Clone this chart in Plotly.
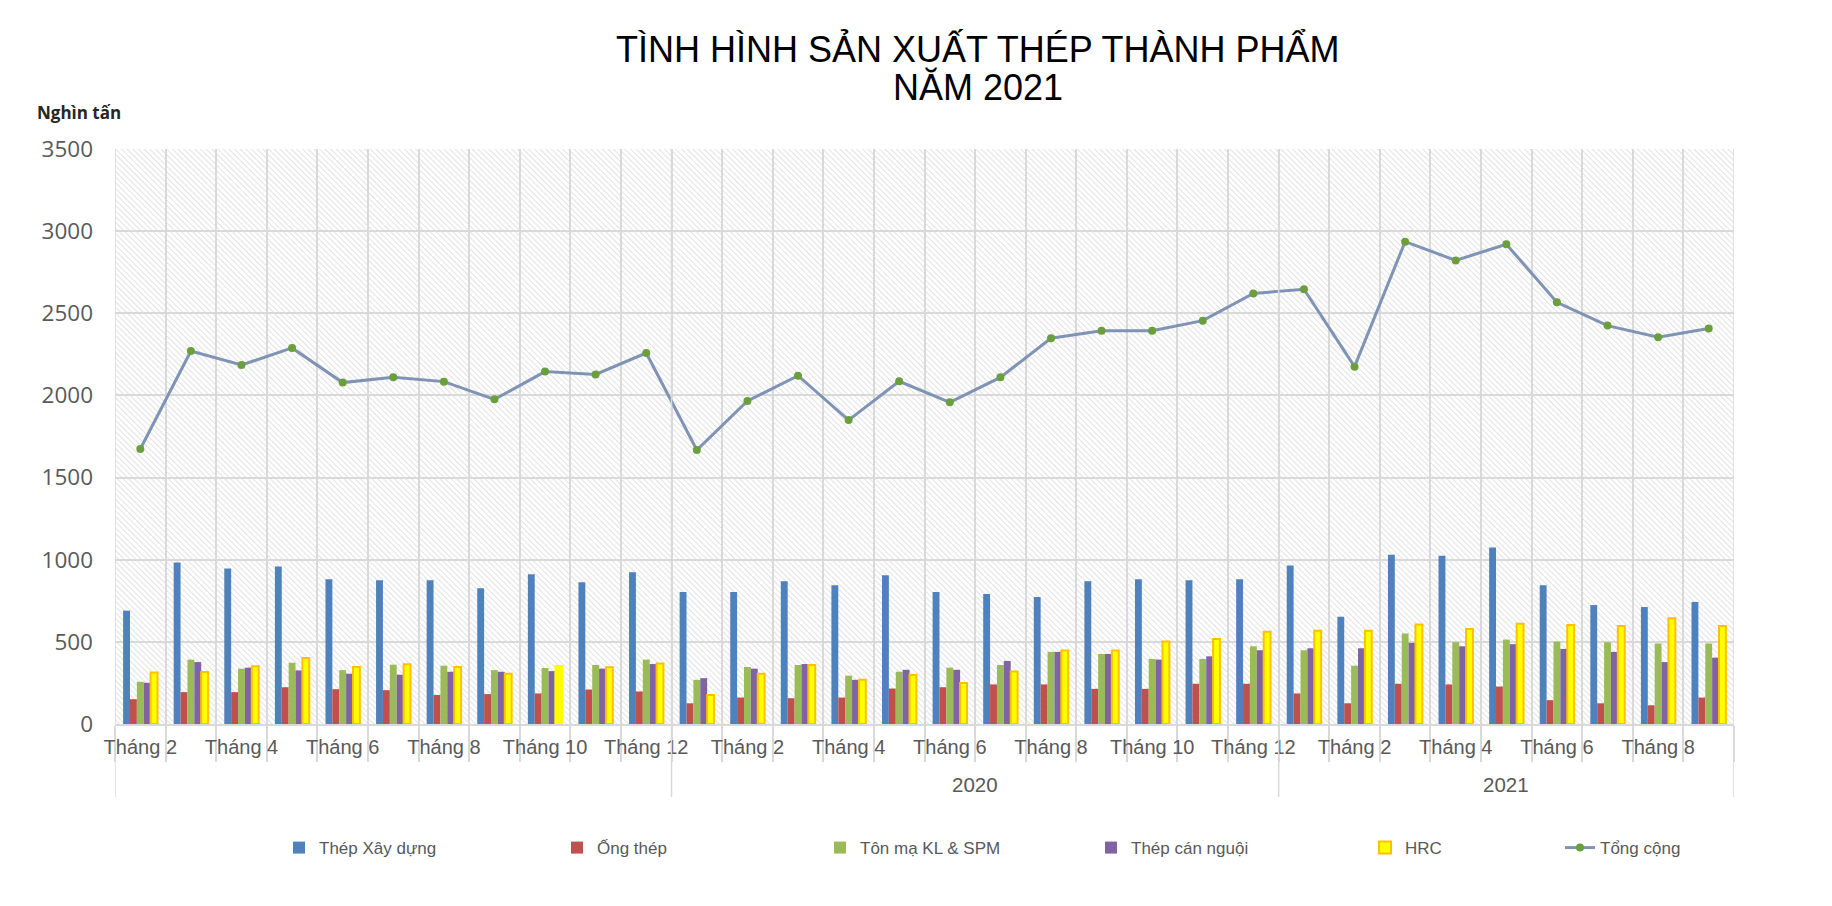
import base64
import numpy as np
import plotly.graph_objects as go

# ---------------- data ----------------
months = (["Tháng %d" % m for m in range(2, 13)]
          + ["Tháng %d" % m for m in range(1, 13)]
          + ["Tháng %d" % m for m in range(1, 10)])
group_labels = ["", "2020", "2021"]
group_sizes = [11, 12, 9]

thep_xd = [690, 983, 947, 959, 881, 875, 875, 826, 912, 863, 924,
           804, 804, 869, 845, 906, 804, 792, 773, 869, 881, 875, 881,
           965, 653, 1030, 1024, 1075, 845, 724, 712, 743]
ong_thep = [151, 194, 194, 224, 212, 206, 177, 182, 186, 210, 198,
            126, 161, 157, 161, 216, 224, 241, 241, 214, 214, 245, 245,
            186, 126, 245, 241, 228, 145, 126, 114, 161]
ton_ma = [257, 392, 337, 373, 328, 361, 355, 328, 341, 359, 392,
          269, 347, 359, 294, 318, 343, 359, 439, 426, 396, 396, 473,
          449, 355, 551, 498, 514, 502, 498, 490, 490]
thep_cn = [251, 377, 343, 326, 306, 300, 318, 318, 322, 337, 365,
           279, 337, 365, 269, 330, 330, 384, 439, 426, 392, 412, 449,
           461, 461, 494, 473, 486, 457, 439, 377, 404]
hrc = [314, 316, 351, 402, 347, 363, 347, 306, 353, 345, 369,
       177, 306, 359, 269, 298, 249, 320, 447, 447, 502, 518, 561,
       567, 567, 606, 579, 610, 602, 596, 643, 596]
tong = [1674, 2270, 2185, 2289, 2078, 2110, 2084, 1976, 2145, 2128, 2258,
        1668, 1966, 2120, 1850, 2086, 1958, 2110, 2348, 2394, 2394, 2455, 2621,
        2646, 2175, 2936, 2822, 2920, 2567, 2425, 2354, 2408]

y_ticks = [0, 500, 1000, 1500, 2000, 2500, 3000, 3500]

# ---------------- layout constants ----------------
ML, MT, PW, PH = 107, 141, 1619, 575
W, H = 1832, 906
n = len(months)
x = np.arange(n)
grid = "#d9d9d9"
txt = "#595959"
legend_item_px = [271, 549, 812, 1083, 1357, 1552]  # left of each legend entry (px)
legend_y = -0.2157


def px_to_paper_x(v):
    return (v - ML) / PW


fig = go.Figure()

bar_series = [
    ("Thép Xây dựng", thep_xd, "#4F81BD"),
    ("Ống thép", ong_thep, "#C0504D"),
    ("Tôn mạ KL & SPM", ton_ma, "#9BBB59"),
    ("Thép cán nguội", thep_cn, "#8064A2"),
]
for i, (name, vals, col) in enumerate(bar_series):
    fig.add_trace(go.Bar(x=x, y=vals, name=name,
                         legend="legend" if i == 0 else "legend%d" % (i + 1),
                         marker=dict(color=col, line=dict(width=0))))

hrc_line = ["#FFC000"] * n
hrc_line[8] = "#FFFF00"
fig.add_trace(go.Bar(x=x, y=hrc, name="HRC", legend="legend5",
                     marker=dict(color="#FFFF00", line=dict(width=2, color=hrc_line))))

fig.add_trace(go.Scatter(x=x, y=tong, name="Tổng cộng", mode="lines+markers",
                         legend="legend6",
                         line=dict(color="#7F93B5", width=3),
                         marker=dict(color="#6A9F3C", size=8)))

# hatched plot background
svg = ('<svg xmlns="http://www.w3.org/2000/svg" width="1619" height="575" '
       'viewBox="0 0 1619 575" preserveAspectRatio="none">'
       '<defs><pattern id="p" width="4" height="4" patternUnits="userSpaceOnUse" '
       'patternTransform="rotate(-45)">'
       '<rect width="4" height="4" fill="#ffffff"/>'
       '<line x1="0" y1="0" x2="0" y2="4" stroke="#d3d3d3" stroke-width="1.3"/>'
       '</pattern></defs><rect width="1619" height="575" fill="url(#p)"/></svg>')
src = "data:image/svg+xml;base64," + base64.b64encode(svg.encode()).decode()
fig.add_layout_image(dict(source=src, xref="paper", yref="paper", x=0, y=1,
                          sizex=1, sizey=1, sizing="stretch", layer="below",
                          xanchor="left", yanchor="top"))

# category boundaries and group dividers
bounds = [i - 0.5 for i in range(n + 1)]
shapes = []
starts = np.cumsum([0] + group_sizes)
for s in starts:
    shapes.append(dict(type="line", xref="x", yref="paper", x0=s - 0.5, x1=s - 0.5,
                       y0=-0.127, y1=1, line=dict(color=grid, width=1.5)))

annotations = []
for lab, a, b in zip(group_labels, starts[:-1], starts[1:]):
    if lab:
        annotations.append(dict(text=lab, xref="x", yref="paper", x=(a + b - 1) / 2,
                                y=-0.106, showarrow=False, yanchor="middle",
                                font=dict(family="Liberation Sans, Arial", size=20.5, color=txt)))
annotations.append(dict(text="TÌNH HÌNH SẢN XUẤT THÉP THÀNH PHẨM", xref="paper", yref="paper",
                        x=0.533, y=1.174, showarrow=False, yanchor="middle",
                        font=dict(family="Liberation Sans, Arial", size=36, color="#000000")))
annotations.append(dict(text="NĂM 2021", xref="paper", yref="paper",
                        x=0.533, y=1.107, showarrow=False, yanchor="middle",
                        font=dict(family="Liberation Sans, Arial", size=36, color="#000000")))
annotations.append(dict(text="<b>Nghìn tấn</b>", xref="paper", yref="paper",
                        x=-0.0494, y=1.064, showarrow=False, xanchor="left", yanchor="middle",
                        font=dict(family="Open Sans, Liberation Sans", size=17, color="#262626")))

legend_font = dict(family="Liberation Sans, Arial", size=17, color=txt)
legends = {}
for i, lx in enumerate(legend_item_px):
    key = "legend" if i == 0 else "legend%d" % (i + 1)
    legends[key] = dict(orientation="h", x=px_to_paper_x(lx), xanchor="left",
                        y=legend_y, yanchor="middle", font=legend_font,
                        bgcolor="rgba(0,0,0,0)", borderwidth=0)

fig.update_layout(
    width=W, height=H,
    margin=dict(l=ML, r=W - ML - PW, t=MT, b=H - MT - PH),
    paper_bgcolor="white", plot_bgcolor="rgba(0,0,0,0)",
    barmode="group", bargap=0.32, bargroupgap=0,
    shapes=shapes, annotations=annotations,
    showlegend=True,
    xaxis=dict(range=[-0.5, n - 0.5], tickmode="array", tickvals=x[::2].tolist(),
               ticktext=months[::2], showgrid=False, zeroline=False,
               showline=True, linecolor=grid, linewidth=1.5,
               ticks="", ticklabelstandoff=4, automargin=False,
               tickfont=dict(family="Liberation Sans, Arial", size=20, color=txt),
               minor=dict(tickmode="array", tickvals=bounds, showgrid=True,
                          gridcolor=grid, gridwidth=1.5, ticks="outside",
                          ticklen=36, tickcolor=grid, tickwidth=1.5)),
    yaxis=dict(range=[0, 3500], tickmode="array", tickvals=y_ticks,
               showgrid=True, gridcolor=grid, gridwidth=1.5, zeroline=False,
               ticklabelstandoff=21, automargin=False,
               tickfont=dict(family="Open Sans, Liberation Sans", size=22.5, color=txt)),
    **legends,
)

fig.write_html("out.html")
